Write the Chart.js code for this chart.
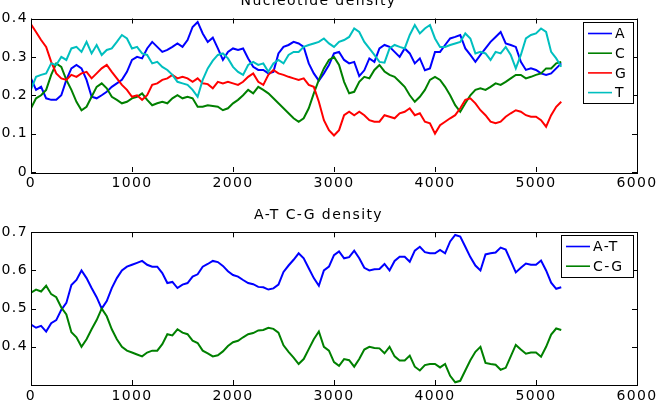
<!DOCTYPE html>
<html>
<head>
<meta charset="utf-8">
<script src="https://cdn.jsdelivr.net/npm/chart.js@4.4.0/dist/chart.umd.min.js"></script>
<style>
  body { margin: 0; width: 663px; height: 412px; overflow: hidden; background: #fff; position: relative; }
  #top { position: absolute; left: 0; top: -14px; width: 663px; height: 214px; }
  #bottom { position: absolute; left: 0; top: 200px; width: 663px; height: 212px; }
  canvas { display: block; }
</style>
</head>
<body>
<div id="top"><canvas id="density" width="663" height="214"></canvas></div>
<div id="bottom"><canvas id="pairs" width="663" height="212"></canvas></div>
<script>
// window positions (every 50 bases)
const pos = [
  0, 50, 100, 150, 200, 250, 300, 350, 400, 450,
  500, 550, 600, 650, 700, 750, 800, 850, 900, 950,
  1000, 1050, 1100, 1150, 1200, 1250, 1300, 1350, 1400, 1450,
  1500, 1550, 1600, 1650, 1700, 1750, 1800, 1850, 1900, 1950,
  2000, 2050, 2100, 2150, 2200, 2250, 2300, 2350, 2400, 2450,
  2500, 2550, 2600, 2650, 2700, 2750, 2800, 2850, 2900, 2950,
  3000, 3050, 3100, 3150, 3200, 3250, 3300, 3350, 3400, 3450,
  3500, 3550, 3600, 3650, 3700, 3750, 3800, 3850, 3900, 3950,
  4000, 4050, 4100, 4150, 4200, 4250, 4300, 4350, 4400, 4450,
  4500, 4550, 4600, 4650, 4700, 4750, 4800, 4850, 4900, 4950,
  5000, 5050, 5100, 5150, 5200, 5250
];

const densA = [
  .244, .214, .222, .192, .188, .188, .200, .240, .270, .279,
  .270, .240, .196, .192, .200, .209, .222, .231, .240, .261,
  .292, .300, .296, .322, .339, .326, .313, .318, .326, .335,
  .326, .344, .378, .391, .361, .339, .350, .322, .292, .313,
  .322, .318, .322, .296, .274, .266, .266, .257, .261, .309,
  .326, .331, .339, .335, .326, .283, .257, .238, .257, .279,
  .309, .313, .292, .283, .287, .250, .265, .296, .287, .322,
  .331, .326, .313, .300, .322, .309, .283, .296, .265, .270,
  .313, .313, .331, .348, .352, .357, .322, .305, .287, .305,
  .322, .339, .352, .365, .335, .331, .326, .287, .266, .270,
  .266, .257, .253, .257, .270, .283
];
const densC = [
  .166, .192, .200, .214, .253, .283, .274, .240, .214, .183,
  .161, .170, .196, .222, .231, .218, .196, .188, .179, .183,
  .192, .196, .205, .188, .174, .179, .183, .179, .192, .200,
  .192, .196, .192, .170, .170, .174, .172, .170, .161, .166,
  .179, .188, .200, .214, .205, .222, .214, .205, .192, .179,
  .166, .153, .140, .131, .140, .166, .205, .240, .270, .292,
  .300, .279, .235, .205, .209, .235, .248, .244, .266, .279,
  .262, .253, .248, .235, .222, .200, .183, .196, .214, .240,
  .248, .240, .222, .200, .174, .157, .179, .200, .214, .218,
  .214, .222, .231, .227, .235, .244, .253, .253, .244, .248,
  .253, .257, .270, .270, .283, .287
];
const densG = [
  .385, .365, .344, .326, .287, .257, .244, .240, .253, .248,
  .257, .261, .244, .257, .270, .279, .261, .244, .227, .214,
  .196, .200, .188, .200, .227, .231, .240, .244, .253, .244,
  .248, .244, .235, .244, .231, .229, .218, .235, .231, .235,
  .231, .227, .235, .248, .257, .235, .227, .253, .266, .257,
  .253, .248, .244, .240, .244, .227, .222, .183, .135, .109,
  .095, .109, .148, .157, .148, .157, .148, .135, .131, .131,
  .148, .144, .140, .153, .157, .166, .148, .153, .131, .127,
  .100, .122, .131, .140, .148, .166, .188, .192, .179, .161,
  .148, .131, .127, .131, .144, .153, .161, .157, .148, .144,
  .144, .135, .118, .148, .170, .183
];
const densT = [
  .215, .248, .253, .257, .283, .279, .300, .292, .322, .326,
  .313, .339, .309, .331, .305, .318, .322, .339, .357, .348,
  .322, .326, .309, .305, .283, .287, .274, .266, .253, .235,
  .231, .227, .214, .196, .240, .270, .290, .305, .309, .296,
  .274, .261, .253, .279, .287, .279, .283, .261, .283, .292,
  .283, .305, .313, .313, .326, .331, .335, .339, .348, .335,
  .326, .339, .344, .352, .374, .365, .339, .322, .305, .287,
  .285, .322, .331, .326, .322, .357, .383, .361, .374, .383,
  .348, .326, .326, .331, .335, .339, .361, .348, .309, .313,
  .309, .292, .313, .309, .326, .305, .270, .305, .348, .357,
  .361, .374, .365, .313, .296, .274
];

const densAT = [
  .458, .450, .455, .440, .462, .470, .497, .515, .562, .575,
  .600, .580, .554, .530, .500, .520, .554, .580, .600, .610,
  .615, .620, .625, .615, .610, .610, .593, .567, .570, .554,
  .563, .567, .584, .590, .610, .617, .625, .622, .612, .598,
  .588, .584, .575, .567, .564, .557, .556, .550, .553, .563,
  .596, .613, .628, .645, .632, .606, .580, .560, .600, .610,
  .640, .650, .632, .635, .652, .632, .607, .600, .603, .604,
  .617, .600, .625, .636, .636, .623, .652, .662, .648, .645,
  .645, .654, .645, .676, .693, .689, .662, .635, .613, .600,
  .642, .645, .647, .660, .655, .625, .595, .607, .618, .615,
  .615, .626, .600, .568, .552, .556
];
const densCG = [
  .542, .550, .545, .560, .538, .530, .503, .485, .438, .425,
  .400, .420, .446, .470, .500, .480, .446, .420, .400, .390,
  .385, .380, .375, .385, .390, .390, .407, .433, .430, .446,
  .437, .433, .416, .410, .390, .383, .375, .378, .388, .402,
  .412, .416, .425, .433, .436, .443, .444, .450, .447, .437,
  .404, .387, .372, .355, .368, .394, .420, .440, .400, .390,
  .360, .350, .368, .365, .348, .368, .393, .400, .397, .396,
  .383, .400, .375, .364, .364, .377, .348, .338, .352, .355,
  .355, .346, .355, .324, .307, .311, .338, .365, .387, .400,
  .358, .355, .353, .340, .345, .375, .405, .393, .382, .385,
  .385, .374, .400, .432, .448, .444
];

const FONT = "'DejaVu Sans', Verdana, sans-serif";
const SPACING = '1.4px';
Chart.defaults.font.family = FONT;
Chart.defaults.font.size = 14;
Chart.defaults.color = '#000';

const toPoints = vals => pos.map((p, i) => ({ x: p, y: vals[i] }));

const line = (label, vals, color, order) => ({
  label: label,
  data: toPoints(vals),
  borderColor: color,
  backgroundColor: color,
  borderWidth: 2,
  pointRadius: 0,
  tension: 0,
  order: order
});

// the original text is wide, so space the letters out a bit
const wideText = {
  id: 'wideText',
  beforeDraw(chart) {
    chart.ctx.letterSpacing = SPACING;
  }
};

// box around the axes with inward tick marks
const matlabFrame = {
  id: 'matlabFrame',
  afterDatasetsDraw(chart) {
    const { ctx, chartArea: a, scales: { x, y } } = chart;
    ctx.save();
    ctx.strokeStyle = '#000';
    ctx.lineWidth = 1;
    ctx.beginPath();
    x.ticks.forEach(t => {
      const px = Math.round(x.getPixelForValue(t.value)) + 0.5;
      ctx.moveTo(px, a.bottom); ctx.lineTo(px, a.bottom - 5);
      ctx.moveTo(px, a.top); ctx.lineTo(px, a.top + 5);
    });
    y.ticks.forEach(t => {
      const py = Math.round(y.getPixelForValue(t.value)) + 0.5;
      ctx.moveTo(a.left, py); ctx.lineTo(a.left + 5, py);
      ctx.moveTo(a.right, py); ctx.lineTo(a.right - 5, py);
    });
    ctx.stroke();
    ctx.strokeRect(Math.round(a.left) + 0.5, Math.round(a.top) + 0.5,
      Math.round(a.width), Math.round(a.height));
    ctx.restore();
  }
};

// legend drawn inside the axes, top right
const boxLegend = {
  id: 'boxLegend',
  afterDraw(chart, args, opts) {
    const { ctx, chartArea: a } = chart;
    const sets = chart.data.datasets;
    const w = opts.width;
    const h = 22 + (sets.length - 1) * 19.7;
    const left = Math.round(a.right - 4 - w);
    const top = Math.round(a.top + 3);
    ctx.save();
    ctx.fillStyle = '#fff';
    ctx.fillRect(left, top, w, h);
    ctx.strokeStyle = '#000';
    ctx.lineWidth = 1;
    ctx.strokeRect(left + 0.5, top + 0.5, w, Math.round(h));
    ctx.font = '14px ' + FONT;
    ctx.letterSpacing = SPACING;
    ctx.textBaseline = 'middle';
    sets.forEach((ds, i) => {
      const cy = top + 11.5 + i * 19.7;
      ctx.strokeStyle = ds.borderColor;
      ctx.lineWidth = 1.6;
      ctx.beginPath();
      ctx.moveTo(left + 5, cy);
      ctx.lineTo(left + 29, cy);
      ctx.stroke();
      ctx.fillStyle = '#000';
      ctx.fillText(ds.label, left + 32, cy + 1);
    });
    ctx.restore();
  }
};

const xAxis = {
  type: 'linear',
  min: 0,
  max: 6000,
  ticks: { stepSize: 1000, padding: 3, maxRotation: 0, callback: v => String(v) },
  grid: { display: false, drawTicks: false },
  border: { display: false }
};

const densityConfig = {
  type: 'line',
  data: {
    datasets: [
      line('A', densA, '#0000ff', 3),
      line('C', densC, '#008000', 2),
      line('G', densG, '#ff0000', 1),
      line('T', densT, '#00bfbf', 0)
    ]
  },
  options: {
    responsive: false,
    animation: false,
    events: [],
    layout: { padding: { left: 0, right: 26, top: 0, bottom: 5.2 } },
    scales: {
      x: xAxis,
      y: {
        min: 0,
        max: 0.4,
        ticks: { stepSize: 0.1, padding: 3 },
        grid: { display: false, drawTicks: false },
        border: { display: false },
        afterFit: s => { s.width = 31; }
      }
    },
    plugins: {
      legend: { display: false },
      tooltip: { enabled: false },
      title: {
        display: true,
        text: 'Nucleotide density',
        font: { size: 14, weight: 'normal' },
        padding: { top: 7, bottom: 8.7 }
      },
      boxLegend: { width: 50 }
    }
  },
  plugins: [wideText, matlabFrame, boxLegend]
};

const pairsConfig = {
  type: 'line',
  data: {
    datasets: [
      line('A-T', densAT, '#0000ff', 1),
      line('C-G', densCG, '#008000', 0)
    ]
  },
  options: {
    responsive: false,
    animation: false,
    events: [],
    layout: { padding: { left: 0, right: 26, top: 0, bottom: 4.2 } },
    scales: {
      x: xAxis,
      y: {
        min: 0.3,
        max: 0.7,
        ticks: { stepSize: 0.1, padding: 3 },
        grid: { display: false, drawTicks: false },
        border: { display: false },
        afterBuildTicks: s => { s.ticks = s.ticks.filter(t => t.value > 0.35); },
        afterFit: s => { s.width = 31; }
      }
    },
    plugins: {
      legend: { display: false },
      tooltip: { enabled: false },
      title: {
        display: true,
        text: 'A-T C-G density',
        font: { size: 14, weight: 'normal' },
        padding: { top: 7, bottom: 8.5 }
      },
      boxLegend: { width: 72 }
    }
  },
  plugins: [wideText, matlabFrame, boxLegend]
};

const densityChart = new Chart(document.getElementById('density').getContext('2d'), densityConfig);
const pairsChart = new Chart(document.getElementById('pairs').getContext('2d'), pairsConfig);
</script>
</body>
</html>
